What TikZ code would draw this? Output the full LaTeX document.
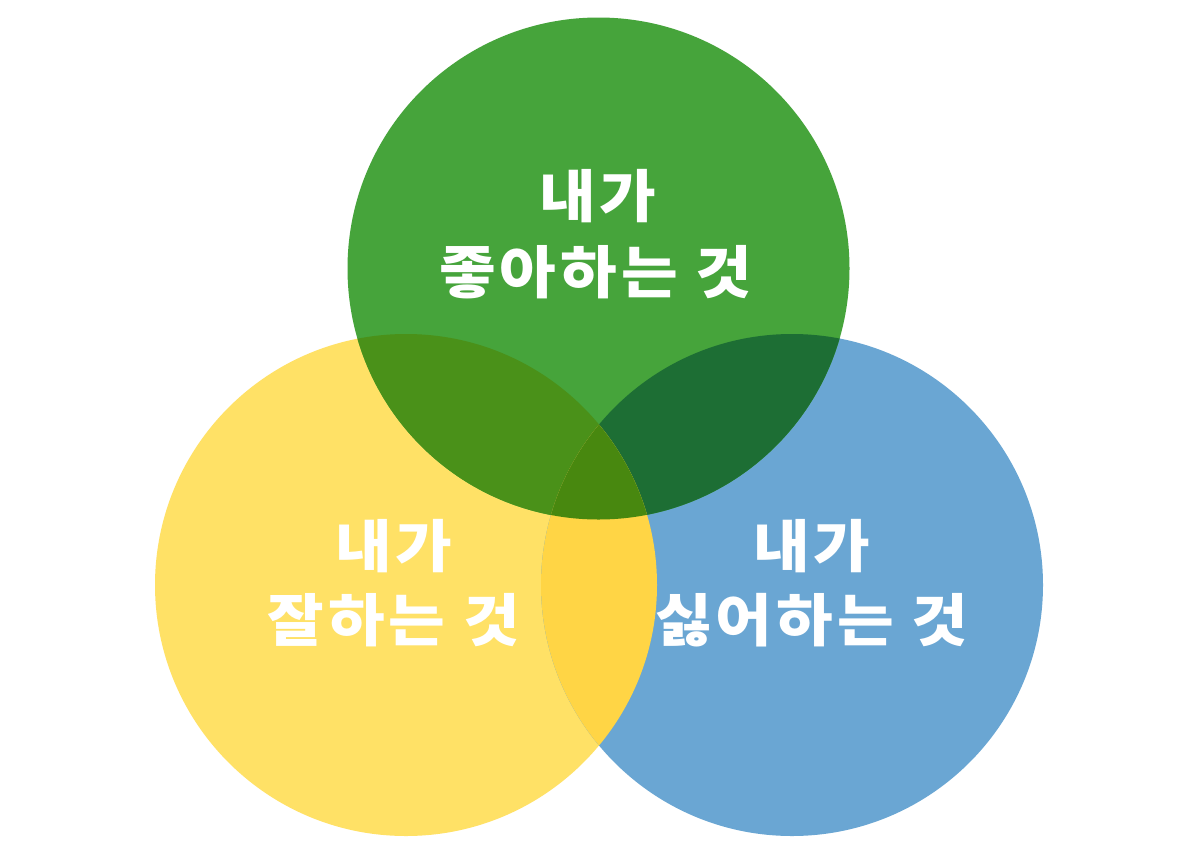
\documentclass[tikz,border=0pt]{standalone}
\usepackage{fontspec}
\newfontfamily\kr{Noto Sans CJK KR}[LetterSpace=7,FakeStretch=1.08]
\definecolor{cg}{HTML}{46A43B}
\definecolor{cy}{HTML}{FFE166}
\definecolor{cb}{HTML}{6AA6D3}
\definecolor{cgy}{HTML}{4A9119}
\definecolor{cgb}{HTML}{1D6E34}
\definecolor{cyb}{HTML}{FFD545}
\definecolor{cgyb}{HTML}{48880F}
\tikzset{lbl/.style={text=white,font=\kr\bfseries\fontsize{57}{60}\selectfont,inner sep=0pt,anchor=center}}
\begin{document}
\begin{tikzpicture}[x=1pt,y=-1pt]
\useasboundingbox (0,0) rectangle (1200,855);
\fill[white] (0,0) rectangle (1200,855);
\coordinate (G) at (598.5,268.5);
\coordinate (Y) at (406,585);
\coordinate (B) at (792,585);
\def\R{251}
\fill[cy] (Y) circle (\R);
\fill[cb] (B) circle (\R);
\fill[cg] (G) circle (\R);
\begin{scope}
  \clip (G) circle (\R);
  \fill[cgy] (Y) circle (\R);
  \fill[cgb] (B) circle (\R);
\end{scope}
\begin{scope}
  \clip (Y) circle (\R);
  \fill[cyb] (B) circle (\R);
  \clip (B) circle (\R);
  \fill[cgyb] (G) circle (\R);
\end{scope}
\node[lbl] (g1) at (598,196) {내가};
\node[lbl] (g2) at (596,272) {좋아하는 것};
\node[lbl] (y1) at (394,546) {내가};
\node[lbl] (y2) at (394,620) {잘하는 것};
\node[lbl] (b1) at (812,546) {내가};
\node[lbl] (b2) at (812,620) {싫어하는 것};
\end{tikzpicture}
\end{document}
